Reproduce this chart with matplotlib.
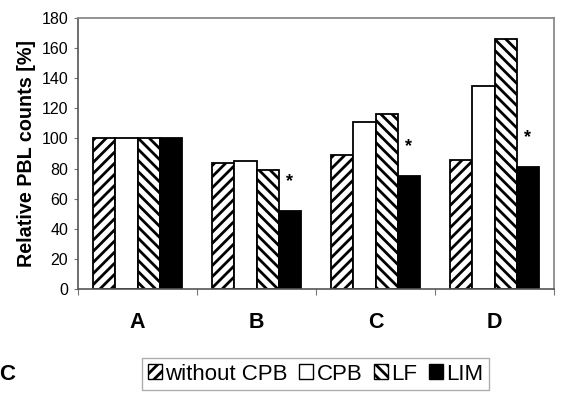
import matplotlib
matplotlib.use("Agg")
import matplotlib.pyplot as plt
import numpy as np
from matplotlib.patches import Patch

plt.rcParams['font.family'] = ['Liberation Sans', 'DejaVu Sans']
plt.rcParams['hatch.linewidth'] = 2.0

categories = ["A", "B", "C", "D"]
series_names = ["without CPB", "CPB", "LF", "LIM"]
without_cpb = [100, 84, 89, 86]
cpb = [100, 85, 111, 135]
lf = [100, 79, 116, 166]
lim = [100, 52, 75, 81]
significant = [False, True, True, True]  # marked with * above LIM
yticks = [0, 20, 40, 60, 80, 100, 120, 140, 160, 180]

series = [without_cpb, cpb, lf, lim]
styles = [
    dict(facecolor="white", hatch="///"),
    dict(facecolor="white", hatch=None),
    dict(facecolor="white", hatch="\\\\\\"),
    dict(facecolor="black", hatch=None),
]

fig = plt.figure(figsize=(5.63, 3.98), dpi=100)
ax = fig.add_axes([78 / 563, 1 - 289 / 398, (554 - 78) / 563, (289 - 18) / 398])

x = np.arange(len(categories))
w = 0.185
offsets = (np.arange(4) - 1.5) * w
for vals, st, off, name in zip(series, styles, offsets, series_names):
    ax.bar(x + off, vals, width=w, edgecolor="black", linewidth=1.3,
           label=name, **st)

for i, flag in enumerate(significant):
    if flag:
        ax.text(x[i] + offsets[3], lim[i] + 14, "*", ha="center", va="bottom",
                fontsize=13, fontweight="bold")

ax.set_xlim(-0.5, len(categories) - 0.5)
ax.set_ylim(0, 180)
ax.set_yticks(yticks)
ax.set_yticklabels([str(t) for t in yticks], fontsize=11.5)
ax.tick_params(axis="y", length=3, width=0.8, color="#777777", pad=4)

# category boundaries carry the ticks, labels sit at the centres
ax.set_xticks(np.arange(len(categories) + 1) - 0.5)
ax.set_xticklabels([])
ax.tick_params(axis="x", length=4, width=0.8, color="#777777")
for xi, c in zip(x, categories):
    ax.text(xi, -(322 - 289) / 271, c, transform=ax.get_xaxis_transform(),
            ha="center", va="center", fontsize=15.5, fontweight="bold")

for side in ["top", "right"]:
    ax.spines[side].set_color("#8a8a8a")
    ax.spines[side].set_linewidth(1.3)
for side in ["left", "bottom"]:
    ax.spines[side].set_color("#555555")
    ax.spines[side].set_linewidth(1.2)

ax.set_ylabel("Relative PBL counts [%]", fontsize=14.2, fontweight="bold",
              labelpad=4)

handles = [Patch(edgecolor="black", linewidth=1.0, label=n, **st)
           for n, st in zip(series_names, styles)]
leg = fig.legend(handles=handles, loc="center", ncol=4,
                 bbox_to_anchor=(315.5 / 563, 1 - 374 / 398), frameon=True,
                 fancybox=False, edgecolor="#999999", fontsize=16,
                 handlelength=0.65, handleheight=0.65, handletextpad=0.15,
                 columnspacing=0.5, borderpad=0.25, borderaxespad=0)
leg.get_frame().set_linewidth(1.0)

fig.text(-1 / 563, 1 - 374 / 398, "C", fontsize=16, fontweight="bold",
         ha="left", va="center")

fig.savefig("out.png", dpi=100)
